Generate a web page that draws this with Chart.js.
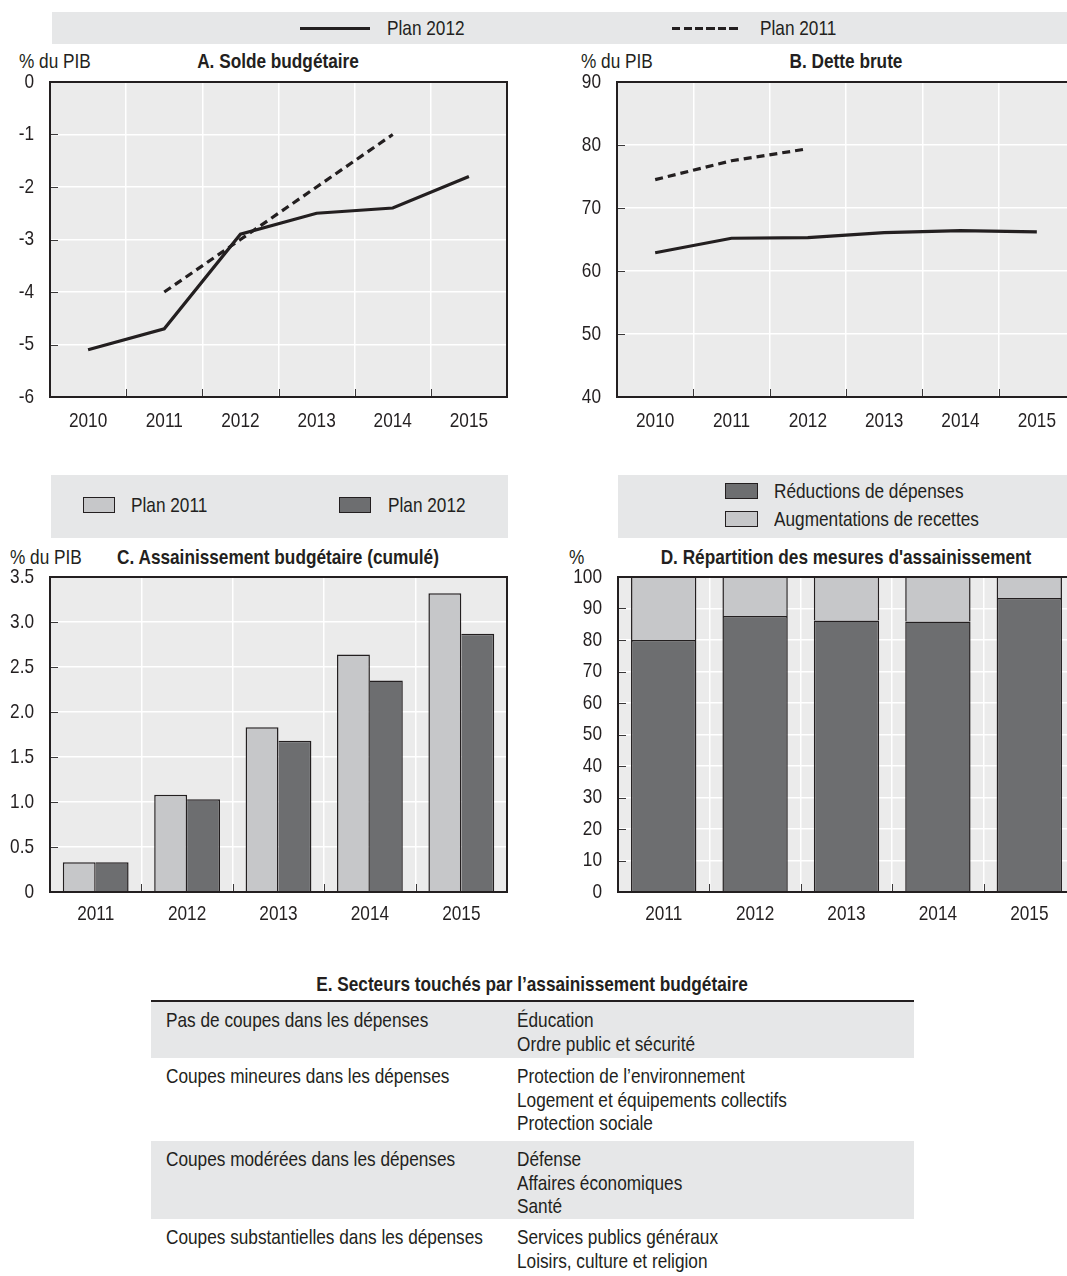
<!DOCTYPE html>
<html>
<head>
<meta charset="utf-8">
<script src="https://cdn.jsdelivr.net/npm/chart.js@4.4.1/dist/chart.umd.min.js"></script>
<style>
  html, body { margin: 0; padding: 0; background: #fff; }
  body { width: 1067px; height: 1276px; overflow: hidden; position: relative;
         font-family: 'Liberation Sans', Arial, sans-serif;
         color: #231f20; font-size: 21px; }
  .abs { position: absolute; white-space: nowrap; }
  .t { height: 26px; line-height: 26px; transform: scaleX(0.82); transform-origin: 0 50%; }
  .title { font-weight: bold; text-align: center; width: 600px; transform-origin: 50% 50%; }
  .band { position: absolute; background: #e6e7e8; }
  .sw { position: absolute; box-sizing: border-box; border: 1.5px solid #231f20; }
  canvas { position: absolute; }
  .row { position: absolute; left: 151px; width: 763px; }
  .row.g { background: #e6e7e8; }
  .cell { position: absolute; top: 6px; white-space: nowrap; line-height: 23.5px;
          transform: scaleX(0.82); transform-origin: 0 0; }
</style>
</head>
<body>

<div class="band" style="left:52px;top:12px;width:1015px;height:32px;"></div>
<div class="abs" style="left:300px;top:26.5px;width:70px;height:3px;background:#231f20;"></div>
<div class="abs t" style="left:387px;top:15px;">Plan 2012</div>
<div class="abs" style="left:672px;top:26.5px;width:66px;height:3.5px;background:repeating-linear-gradient(90deg,#231f20 0 8px,transparent 8px 11.5px);"></div>
<div class="abs t" style="left:760px;top:15px;">Plan 2011</div>

<div class="abs t" style="left:19px;top:48px;">% du PIB</div>
<div class="abs t title" style="left:-22px;top:48px;">A. Solde budgétaire</div>
<div class="abs t" style="left:581px;top:48px;">% du PIB</div>
<div class="abs t title" style="left:546px;top:48px;">B. Dette brute</div>

<div class="band" style="left:51px;top:475px;width:457px;height:63px;"></div>
<div class="sw" style="left:83px;top:497px;width:32px;height:16px;background:#c6c7c9;"></div>
<div class="abs t" style="left:131px;top:492px;">Plan 2011</div>
<div class="sw" style="left:339px;top:497px;width:32px;height:16px;background:#6d6e70;"></div>
<div class="abs t" style="left:388px;top:492px;">Plan 2012</div>

<div class="band" style="left:618px;top:475px;width:449px;height:63px;"></div>
<div class="sw" style="left:725px;top:483px;width:33px;height:16px;background:#6d6e70;"></div>
<div class="abs t" style="left:774px;top:478px;">Réductions de dépenses</div>
<div class="sw" style="left:725px;top:511px;width:33px;height:16px;background:#c6c7c9;"></div>
<div class="abs t" style="left:774px;top:506px;">Augmentations de recettes</div>

<div class="abs t" style="left:10px;top:544px;">% du PIB</div>
<div class="abs t title" style="left:-22px;top:544px;">C. Assainissement budgétaire (cumulé)</div>
<div class="abs t" style="left:569px;top:544px;">%</div>
<div class="abs t title" style="left:546px;top:544px;">D. Répartition des mesures d'assainissement</div>

<canvas id="cA" width="520" height="370" style="left:0px;top:70px;"></canvas>
<canvas id="cB" width="560" height="370" style="left:530px;top:70px;"></canvas>
<canvas id="cC" width="520" height="370" style="left:0px;top:560px;"></canvas>
<canvas id="cD" width="560" height="370" style="left:530px;top:560px;"></canvas>

<div class="abs t title" style="left:232px;top:971px;">E. Secteurs touchés par l’assainissement budgétaire</div>
<div class="abs" style="left:151px;top:999.5px;width:763px;height:2.5px;background:#231f20;"></div>
<div id="tblE"></div>

<script>
// ---------- DATA ----------
const yearsAB = ['2010', '2011', '2012', '2013', '2014', '2015'];
const soldePlan2012 = [-5.1, -4.7, -2.9, -2.5, -2.4, -1.8];
const soldePlan2011 = [null, -4.0, -3.0, -2.0, -1.0, null];
const dettePlan2012 = [62.9, 65.2, 65.3, 66.1, 66.4, 66.2];
const dettePlan2011 = [74.5, 77.5, 79.4, null, null, null];

const yearsCD = ['2011', '2012', '2013', '2014', '2015'];
const assainPlan2011 = [0.33, 1.08, 1.83, 2.64, 3.32];
const assainPlan2012 = [0.33, 1.03, 1.68, 2.35, 2.87];
const reductionsDepenses = [80.0, 87.6, 86.2, 85.9, 93.3];
const augmentationsRecettes = [20.0, 12.4, 13.8, 14.1, 6.7];

const tableCategories = [
  'Pas de coupes dans les dépenses',
  'Coupes mineures dans les dépenses',
  'Coupes modérées dans les dépenses',
  'Coupes substantielles dans les dépenses'
];
const tableSectors = [
  ['Éducation', 'Ordre public et sécurité'],
  ['Protection de l’environnement', 'Logement et équipements collectifs', 'Protection sociale'],
  ['Défense', 'Affaires économiques', 'Santé'],
  ['Services publics généraux', 'Loisirs, culture et religion']
];

// ---------- STYLE ----------
const INK = '#231f20';
const PLOT_BG = '#ebebeb';
const LIGHT = '#c6c7c9';
const DARK = '#6d6e70';
const FONT_FAMILY = "'Liberation Sans', Arial, sans-serif";
const NARROW = 0.82;

Chart.defaults.font.family = FONT_FAMILY;
Chart.defaults.font.size = 21;
Chart.defaults.color = INK;

const framePlugin = {
  id: 'frame',
  beforeDraw(chart) {
    const { ctx, chartArea: a } = chart;
    ctx.save();
    ctx.fillStyle = PLOT_BG;
    ctx.fillRect(a.left, a.top, a.right - a.left, a.bottom - a.top);
    ctx.restore();
  },
  afterDraw(chart, args, opts) {
    const { ctx, chartArea: a, scales } = chart;
    const xs = scales.x, ys = scales.y;
    ctx.save();
    ctx.strokeStyle = '#3a3839';
    ctx.lineWidth = 1;
    ctx.beginPath();
    const n = xs.getLabels().length;
    for (let i = 0; i < n - 1; i++) {
      const px = Math.round(xs.getPixelForValue(i + 0.5)) + 0.5;
      ctx.moveTo(px, a.bottom);
      ctx.lineTo(px, a.bottom - 8);
    }
    ys.ticks.forEach(t => {
      const py = Math.round(ys.getPixelForValue(t.value)) + 0.5;
      ctx.moveTo(a.left, py);
      ctx.lineTo(a.left + 8, py);
    });
    ctx.stroke();
    ctx.strokeStyle = INK;
    ctx.lineWidth = 2;
    ctx.strokeRect(a.left, a.top, a.right - a.left, a.bottom - a.top);

    // tick labels, condensed
    ctx.font = '21px ' + FONT_FAMILY;
    ctx.fillStyle = INK;
    ctx.textBaseline = 'middle';
    ctx.textAlign = 'center';
    xs.ticks.forEach((t, i) => {
      const px = xs.getPixelForTick(i);
      ctx.save();
      ctx.translate(px, a.bottom + opts.xOffset);
      ctx.scale(NARROW, 1);
      ctx.fillText(xs.getLabelForValue(t.value), 0, 0);
      ctx.restore();
    });
    ctx.textAlign = 'right';
    ys.ticks.forEach(t => {
      const py = ys.getPixelForValue(t.value);
      ctx.save();
      ctx.translate(a.left - 16, py);
      ctx.scale(NARROW, 1);
      ctx.fillText(opts.fmt(t.value), 0, 0);
      ctx.restore();
    });
    ctx.restore();
  }
};

function baseOptions(cfg) {
  return {
    responsive: false,
    animation: false,
    devicePixelRatio: 1,
    layout: { padding: { top: cfg.padTop, right: cfg.padRight, left: 0, bottom: 0 } },
    plugins: {
      legend: { display: false }, tooltip: { enabled: false },
      frame: { xOffset: cfg.xOffset, fmt: cfg.fmt || (v => String(v)) }
    },
    scales: {
      x: {
        type: 'category',
        offset: true,
        grid: { display: true, offset: true, color: '#ffffff', lineWidth: 1.5, drawTicks: false },
        border: { display: false },
        ticks: { display: false, autoSkip: false },
        afterFit(scale) { scale.height = cfg.xHeight; }
      },
      y: {
        min: cfg.min, max: cfg.max,
        stacked: cfg.stacked || false,
        grid: { color: '#ffffff', lineWidth: 1.5, drawTicks: false },
        border: { display: false },
        ticks: { display: false, stepSize: cfg.step },
        afterFit(scale) { scale.width = cfg.yWidth; }
      }
    }
  };
}

function lineDs(label, data, dashed) {
  return {
    label, data,
    borderColor: INK, backgroundColor: INK,
    borderWidth: 3.2, pointRadius: 0, tension: 0, spanGaps: false,
    borderDash: dashed ? [8, 5] : [],
    borderCapStyle: 'butt', borderJoinStyle: 'miter'
  };
}

// A
new Chart(document.getElementById('cA'), {
  type: 'line',
  data: { labels: yearsAB, datasets: [
    lineDs('Plan 2011', soldePlan2011, true),
    lineDs('Plan 2012', soldePlan2012, false)
  ] },
  options: baseOptions({ padTop: 12, padRight: 13, xHeight: 43, yWidth: 50, min: -6, max: 0, step: 1, xOffset: 24 }),
  plugins: [framePlugin]
});

// B
new Chart(document.getElementById('cB'), {
  type: 'line',
  data: { labels: yearsAB, datasets: [
    lineDs('Plan 2011', dettePlan2011, true),
    lineDs('Plan 2012', dettePlan2012, false)
  ] },
  options: baseOptions({ padTop: 12, padRight: 15, xHeight: 43, yWidth: 87, min: 40, max: 90, step: 10, xOffset: 24 }),
  plugins: [framePlugin]
});

// C
new Chart(document.getElementById('cC'), {
  type: 'bar',
  data: { labels: yearsCD, datasets: [
    { label: 'Plan 2011', data: assainPlan2011, backgroundColor: LIGHT, borderColor: INK,
      borderWidth: { top: 1.5, left: 1.5, right: 1.5, bottom: 0 },
      borderSkipped: false, categoryPercentage: 0.72, barPercentage: 1.0 },
    { label: 'Plan 2012', data: assainPlan2012, backgroundColor: DARK, borderColor: INK,
      borderWidth: { top: 1.5, left: 0, right: 1.5, bottom: 0 },
      borderSkipped: false, categoryPercentage: 0.72, barPercentage: 1.0 }
  ] },
  options: baseOptions({ padTop: 17, padRight: 13, xHeight: 38, yWidth: 50, min: 0, max: 3.5, step: 0.5, xOffset: 22,
    fmt: v => (v === 0 ? '0' : v.toFixed(1)) }),
  plugins: [framePlugin]
});

// D
const optD = baseOptions({ padTop: 17, padRight: 15, xHeight: 38, yWidth: 88, min: 0, max: 100, step: 10, stacked: true, xOffset: 22 });
optD.scales.x.stacked = true;
new Chart(document.getElementById('cD'), {
  type: 'bar',
  data: { labels: yearsCD, datasets: [
    { label: 'Réductions de dépenses', data: reductionsDepenses, backgroundColor: DARK, borderColor: INK,
      borderWidth: { top: 1.5, left: 1.5, right: 1.5, bottom: 0 },
      borderSkipped: false, categoryPercentage: 0.715, barPercentage: 1.0 },
    { label: 'Augmentations de recettes', data: augmentationsRecettes, backgroundColor: LIGHT, borderColor: INK,
      borderWidth: { top: 0, left: 1.5, right: 1.5, bottom: 0 },
      borderSkipped: false, categoryPercentage: 0.715, barPercentage: 1.0 }
  ] },
  options: optD,
  plugins: [framePlugin]
});

// E table
const rowTops = [1002, 1058, 1141, 1219];
const rowHeights = [56, 83, 78, 57];
const host = document.getElementById('tblE');
tableCategories.forEach((cat, i) => {
  const row = document.createElement('div');
  row.className = 'row' + (i % 2 === 0 ? ' g' : '');
  row.style.top = rowTops[i] + 'px';
  row.style.height = rowHeights[i] + 'px';
  const c1 = document.createElement('div');
  c1.className = 'cell';
  c1.style.left = '15px';
  c1.textContent = cat;
  const c2 = document.createElement('div');
  c2.className = 'cell';
  c2.style.left = '366px';
  tableSectors[i].forEach((s, j) => {
    if (j) c2.appendChild(document.createElement('br'));
    c2.appendChild(document.createTextNode(s));
  });
  row.appendChild(c1); row.appendChild(c2);
  host.appendChild(row);
});
</script>
</body>
</html>
